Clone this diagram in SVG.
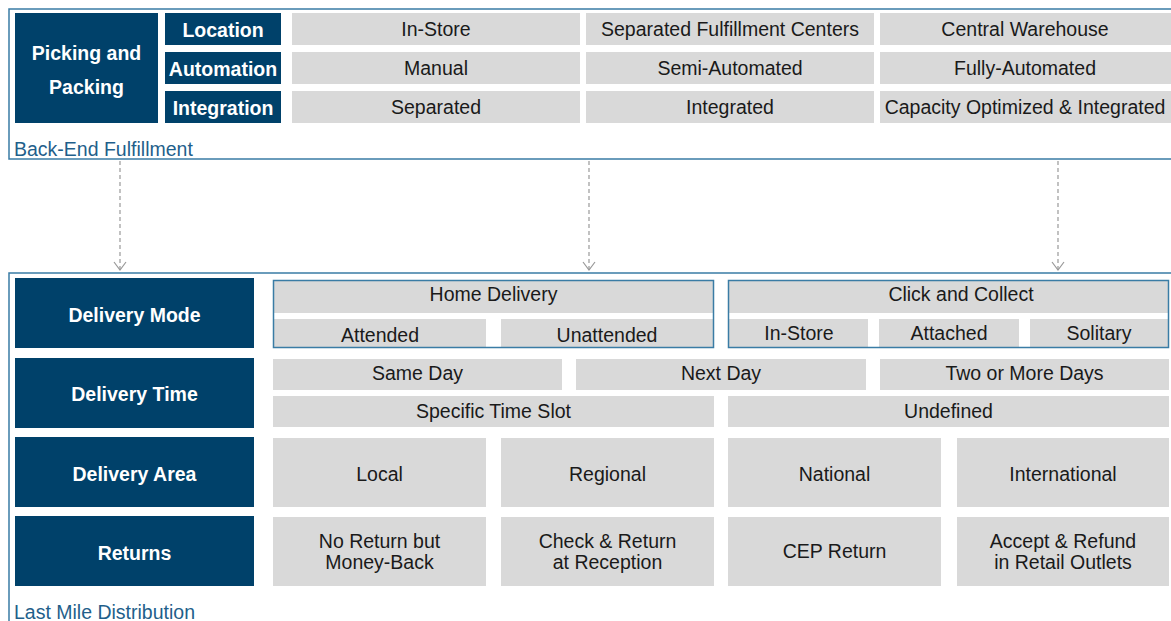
<svg xmlns="http://www.w3.org/2000/svg" width="1171" height="621" viewBox="0 0 1171 621">
<defs>
<style>
.frame{fill:none;stroke:#3a7ca5;stroke-width:1.5}
.dk{fill:#00416a}
.gr{fill:#d9d9d9}
.dt{font-family:"Liberation Sans",Arial,sans-serif;font-weight:bold;font-size:19.5px;fill:#ffffff;text-anchor:middle}
.gt{font-family:"Liberation Sans",Arial,sans-serif;font-size:19.5px;fill:#1a1a1a;text-anchor:middle}
.lbl{font-family:"Liberation Sans",Arial,sans-serif;font-size:19.5px;fill:#1f5f8b}
.sub{fill:none;stroke:#3a7ca5;stroke-width:1.5}
.conn{stroke:#999999;stroke-width:1.2;stroke-dasharray:4,3;fill:none}
</style>
<marker id="arr" markerWidth="12" markerHeight="16" refX="9" refY="7" orient="auto" markerUnits="userSpaceOnUse" viewBox="0 0 12 14">
<path d="M1,1 L9,7 L1,13" fill="none" stroke="#999999" stroke-width="1.2"/>
</marker>
</defs>
<rect width="1171" height="621" fill="#ffffff"/>

<g id="backend">
<path class="frame" d="M1175,9 H9 V159 H1175"/>
<text class="lbl" x="14" y="156">Back-End Fulfillment</text>
</g>

<g id="picking-packing">
<rect class="dk" x="15" y="13" width="143" height="110"/>
<text class="dt" x="86.5" y="60">Picking and</text>
<text class="dt" x="86.5" y="94">Packing</text>
</g>
<g id="location">
<rect class="dk" x="165" y="13" width="116" height="32"/>
<text class="dt" x="223" y="37">Location</text>
<rect class="gr" x="292" y="13" width="288" height="32"/>
<text class="gt" x="436" y="36">In-Store</text>
<rect class="gr" x="586" y="13" width="288" height="32"/>
<text class="gt" x="730" y="36">Separated Fulfillment Centers</text>
<rect class="gr" x="880" y="13" width="291" height="32"/>
<text class="gt" x="1025" y="36">Central Warehouse</text>
</g>
<g id="automation">
<rect class="dk" x="165" y="52" width="116" height="32"/>
<text class="dt" x="223" y="76">Automation</text>
<rect class="gr" x="292" y="52" width="288" height="32"/>
<text class="gt" x="436" y="75">Manual</text>
<rect class="gr" x="586" y="52" width="288" height="32"/>
<text class="gt" x="730" y="75">Semi-Automated</text>
<rect class="gr" x="880" y="52" width="291" height="32"/>
<text class="gt" x="1025" y="75">Fully-Automated</text>
</g>
<g id="integration">
<rect class="dk" x="165" y="91" width="116" height="32"/>
<text class="dt" x="223" y="115">Integration</text>
<rect class="gr" x="292" y="91" width="288" height="32"/>
<text class="gt" x="436" y="114">Separated</text>
<rect class="gr" x="586" y="91" width="288" height="32"/>
<text class="gt" x="730" y="114">Integrated</text>
<rect class="gr" x="880" y="91" width="291" height="32"/>
<text class="gt" x="1025" y="114">Capacity Optimized &amp; Integrated</text>
</g>

<g id="connectors">
<line class="conn" x1="120" y1="161" x2="120" y2="270" marker-end="url(#arr)"/>
<line class="conn" x1="589" y1="161" x2="589" y2="270" marker-end="url(#arr)"/>
<line class="conn" x1="1058" y1="161" x2="1058" y2="270" marker-end="url(#arr)"/>
</g>

<g id="lastmile">
<path class="frame" d="M1175,273 H9 V625"/>
<text class="lbl" x="14" y="619">Last Mile Distribution</text>
</g>

<g id="delivery-mode">
<rect class="dk" x="15" y="278" width="239" height="70"/>
<text class="dt" x="134.5" y="322">Delivery Mode</text>
<g id="home-delivery">
<rect class="gr" x="274" y="281" width="439" height="32"/>
<text class="gt" x="493.5" y="301">Home Delivery</text>
<rect class="gr" x="274" y="319" width="212" height="28"/>
<text class="gt" x="380" y="342">Attended</text>
<rect class="gr" x="501" y="319" width="212" height="28"/>
<text class="gt" x="607" y="342">Unattended</text>
<rect class="sub" x="273.5" y="280.5" width="440" height="67"/>
</g>
<g id="click-collect">
<rect class="gr" x="729" y="281" width="439" height="32"/>
<text class="gt" x="961" y="301">Click and Collect</text>
<rect class="gr" x="729" y="319" width="139" height="28"/>
<text class="gt" x="799" y="340">In-Store</text>
<rect class="gr" x="879" y="319" width="140" height="28"/>
<text class="gt" x="949" y="340">Attached</text>
<rect class="gr" x="1030" y="319" width="138" height="28"/>
<text class="gt" x="1099" y="340">Solitary</text>
<rect class="sub" x="728.5" y="280.5" width="440" height="67"/>
</g>
</g>

<g id="delivery-time">
<rect class="dk" x="15" y="358" width="239" height="70"/>
<text class="dt" x="134.5" y="401">Delivery Time</text>
<rect class="gr" x="273" y="359" width="289" height="31"/>
<text class="gt" x="417.5" y="380">Same Day</text>
<rect class="gr" x="576" y="359" width="290" height="31"/>
<text class="gt" x="721" y="380">Next Day</text>
<rect class="gr" x="880" y="359" width="289" height="31"/>
<text class="gt" x="1024.5" y="380">Two or More Days</text>
<rect class="gr" x="273" y="396" width="441" height="31"/>
<text class="gt" x="493.5" y="418">Specific Time Slot</text>
<rect class="gr" x="728" y="396" width="441" height="31"/>
<text class="gt" x="948.5" y="418">Undefined</text>
</g>

<g id="delivery-area">
<rect class="dk" x="15" y="437" width="239" height="70"/>
<text class="dt" x="134.5" y="481">Delivery Area</text>
<rect class="gr" x="273" y="438" width="213" height="69"/>
<text class="gt" x="379.5" y="481">Local</text>
<rect class="gr" x="501" y="438" width="213" height="69"/>
<text class="gt" x="607.5" y="481">Regional</text>
<rect class="gr" x="728" y="438" width="213" height="69"/>
<text class="gt" x="834.5" y="481">National</text>
<rect class="gr" x="957" y="438" width="212" height="69"/>
<text class="gt" x="1063" y="481">International</text>
</g>

<g id="returns">
<rect class="dk" x="15" y="516" width="239" height="70"/>
<text class="dt" x="134.5" y="560">Returns</text>
<rect class="gr" x="273" y="517" width="213" height="69"/>
<text class="gt" x="379.5" y="548">No Return but</text>
<text class="gt" x="379.5" y="569">Money-Back</text>
<rect class="gr" x="501" y="517" width="213" height="69"/>
<text class="gt" x="607.5" y="548">Check &amp; Return</text>
<text class="gt" x="607.5" y="569">at Reception</text>
<rect class="gr" x="728" y="517" width="213" height="69"/>
<text class="gt" x="834.5" y="558">CEP Return</text>
<rect class="gr" x="957" y="517" width="212" height="69"/>
<text class="gt" x="1063" y="548">Accept &amp; Refund</text>
<text class="gt" x="1063" y="569">in Retail Outlets</text>
</g>
</svg>
